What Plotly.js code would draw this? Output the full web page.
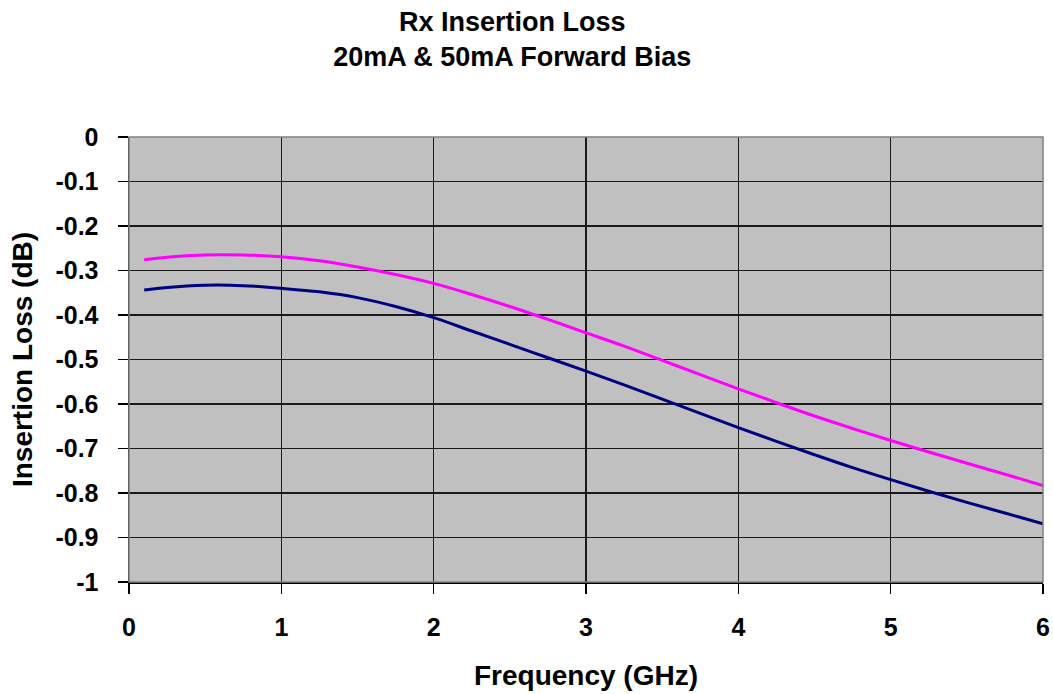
<!DOCTYPE html>
<html>
<head>
<meta charset="utf-8">
<script src="https://cdn.plot.ly/plotly-3.0.1.min.js"></script>
<style>
  html, body { margin: 0; padding: 0; background: #ffffff; }
  #chart { width: 1053px; height: 694px; }
</style>
</head>
<body>
<div id="chart"></div>
<script>
// Frequency (GHz)
const freq = [0.1, 0.25, 0.5, 0.75, 1, 1.25, 1.5, 1.75, 2, 2.25, 2.5, 2.75, 3, 3.25, 3.5, 3.75, 4, 4.25, 4.5, 4.75, 5, 5.25, 5.5, 5.75, 6];
// Insertion loss (dB), magenta curve
const lossMagenta = [-0.276, -0.270, -0.265, -0.265, -0.269, -0.278, -0.292, -0.309, -0.329, -0.354, -0.381, -0.410, -0.440, -0.470, -0.502, -0.534, -0.566, -0.597, -0.627, -0.655, -0.682, -0.708, -0.733, -0.758, -0.783];
// Insertion loss (dB), navy curve
const lossNavy = [-0.344, -0.338, -0.333, -0.334, -0.340, -0.348, -0.361, -0.381, -0.406, -0.436, -0.466, -0.496, -0.526, -0.557, -0.589, -0.621, -0.653, -0.684, -0.714, -0.743, -0.770, -0.796, -0.821, -0.845, -0.869];

const xTicks = [0, 1, 2, 3, 4, 5, 6];
const yTicks = [0, -0.1, -0.2, -0.3, -0.4, -0.5, -0.6, -0.7, -0.8, -0.9, -1];
const yTickText = ['0', '-0.1', '-0.2', '-0.3', '-0.4', '-0.5', '-0.6', '-0.7', '-0.8', '-0.9', '-1'];

const FONT = 'Liberation Sans, Arial, sans-serif';

const traces = [
  {
    x: freq, y: lossMagenta, type: 'scatter', mode: 'lines', name: '20mA',
    line: { color: '#FF00FF', width: 3, shape: 'spline', smoothing: 1 },
    hoverinfo: 'x+y'
  },
  {
    x: freq, y: lossNavy, type: 'scatter', mode: 'lines', name: '50mA',
    line: { color: '#000080', width: 3, shape: 'spline', smoothing: 1 },
    hoverinfo: 'x+y'
  }
];

const layout = {
  width: 1053, height: 694,
  paper_bgcolor: '#ffffff',
  plot_bgcolor: '#C0C0C0',
  showlegend: false,
  margin: { l: 129, r: 10, t: 137, b: 112, pad: 0 },
  font: { family: FONT, color: '#000000', weight: 'bold' },
  title: {
    text: 'Rx Insertion Loss<br>20mA & 50mA Forward Bias',
    font: { family: FONT, size: 27, color: '#000000', weight: 'bold' },
    xref: 'container', x: 0.4865, xanchor: 'center',
    yref: 'container', y: 0.956, yanchor: 'top'
  },
  xaxis: {
    range: [0, 6],
    tickvals: xTicks,
    ticktext: xTicks.map(String),
    ticks: 'outside', ticklen: 10, tickwidth: 1.5, tickcolor: '#000000',
    showline: true, linecolor: '#000000', linewidth: 1.5,
    showgrid: true, gridcolor: '#1a1a1a', gridwidth: 1.2,
    zeroline: false,
    tickfont: { family: FONT, size: 25, color: '#000000', weight: 'bold' },
    ticklabelstandoff: 12,
    title: {
      text: 'Frequency (GHz)',
      font: { family: FONT, size: 28, color: '#000000', weight: 'bold' },
      standoff: 26
    },
    fixedrange: true
  },
  yaxis: {
    range: [-1, 0],
    tickvals: yTicks,
    ticktext: yTickText,
    ticks: 'outside', ticklen: 10, tickwidth: 1.5, tickcolor: '#000000',
    showline: true, linecolor: '#000000', linewidth: 1.5,
    showgrid: true, gridcolor: '#1a1a1a', gridwidth: 1.2,
    zeroline: false,
    tickfont: { family: FONT, size: 25, color: '#000000', weight: 'bold' },
    ticklabelstandoff: 14,
    title: {
      text: 'Insertion Loss (dB)',
      font: { family: FONT, size: 28, color: '#000000', weight: 'bold' },
      standoff: 14
    },
    fixedrange: true
  },
  shapes: [
    {
      type: 'rect', xref: 'paper', yref: 'paper', x0: 0, x1: 1, y0: 0, y1: 1,
      line: { color: '#808080', width: 1.5 }, fillcolor: 'rgba(0,0,0,0)', layer: 'above'
    }
  ]
};

Plotly.newPlot('chart', traces, layout, { displayModeBar: false, staticPlot: true });
</script>
</body>
</html>
